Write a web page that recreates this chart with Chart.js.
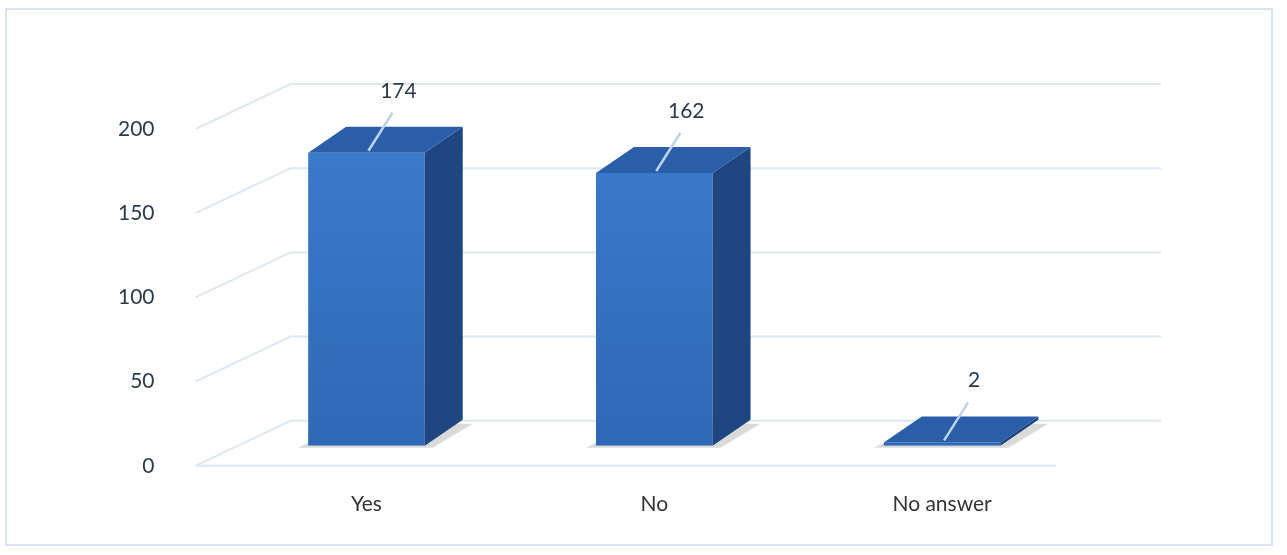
<!DOCTYPE html>
<html><head><meta charset="utf-8">
<script src="https://cdn.jsdelivr.net/npm/chart.js@4/dist/chart.umd.min.js"></script>
<style>
html,body{margin:0;padding:0;background:#fff;}
#wrap{position:absolute;left:0;top:0;width:1287px;height:555px;}
#frame{position:absolute;left:5px;top:8px;width:1268px;height:538px;border:2px solid #d7e4f1;box-sizing:border-box;}
</style></head><body>
<div id="wrap"><div id="frame"></div><canvas id="c" width="1287" height="555"></canvas></div>
<script>
const categories = ["Yes", "No", "No answer"];
const values = [174, 162, 2];
const yTicks = [0, 50, 100, 150, 200];

const DX = 38, DY = -26;
const threeD = {
  id: 'threeD',
  beforeDatasetsDraw(chart) {
    const {ctx, scales:{x, y}} = chart;
    ctx.save();
    ctx.strokeStyle = '#dce8f3'; ctx.lineWidth = 2;
    const left = x.left - 27, backL = left + 95, right = x.right + 75;
    yTicks.forEach(v => {
      const py = y.getPixelForValue(v) + 20;
      ctx.beginPath();
      ctx.moveTo(left, py); ctx.lineTo(backL, py - 45); ctx.lineTo(right, py - 45);
      ctx.stroke();
    });
    ctx.beginPath();
    const p0 = y.getPixelForValue(0) + 20;
    ctx.moveTo(left, p0); ctx.lineTo(right - 105, p0); ctx.stroke();
    const meta = chart.getDatasetMeta(0);
    meta.data.forEach(b => {
      const w = b.width, l = b.x - w/2, base = b.base;
      ctx.fillStyle = 'rgba(150,150,150,0.35)';
      ctx.beginPath();
      ctx.moveTo(l-10, base+2); ctx.lineTo(l+w+8, base+2); ctx.lineTo(l+w+DX+10, base+DY+4); ctx.lineTo(l+DX, base+DY+4); ctx.closePath(); ctx.fill();
    });
    ctx.restore();
  },
  afterDatasetsDraw(chart) {
    const {ctx} = chart;
    const meta = chart.getDatasetMeta(0);
    ctx.save();
    meta.data.forEach((b, i) => {
      const w = b.width, l = b.x - w/2, r = b.x + w/2, t = b.y, base = b.base;
      ctx.fillStyle = '#1f4680';
      ctx.beginPath(); ctx.moveTo(r, t); ctx.lineTo(r+DX, t+DY); ctx.lineTo(r+DX, base+DY); ctx.lineTo(r, base); ctx.closePath(); ctx.fill();
      ctx.fillStyle = '#2b5ea8';
      ctx.beginPath(); ctx.moveTo(l, t); ctx.lineTo(r, t); ctx.lineTo(r+DX, t+DY); ctx.lineTo(l+DX, t+DY); ctx.closePath(); ctx.fill();
      ctx.strokeStyle = '#bcd3ea'; ctx.lineWidth = 2.5;
      ctx.beginPath(); ctx.moveTo(b.x+2, t-2); ctx.lineTo(b.x+26, t-40); ctx.stroke();
      ctx.fillStyle = '#2a3a4c'; ctx.font = '21px Lato, sans-serif';
      ctx.textAlign = 'center'; ctx.textBaseline = 'alphabetic';
      ctx.fillText(String(values[i]), b.x+32, t-55);
    });
    ctx.restore();
  }
};

new Chart(document.getElementById('c'), {
  type: 'bar',
  data: { labels: categories, datasets: [{ data: values,
    backgroundColor: (c) => {
      const {ctx, chartArea} = c.chart;
      if (!chartArea) return '#3a78c8';
      const g = ctx.createLinearGradient(0, chartArea.top, 0, chartArea.bottom);
      g.addColorStop(0, '#3d7ccc'); g.addColorStop(1, '#2f68b6'); return g;
    },
    borderWidth: 0, barPercentage: 0.81, categoryPercentage: 0.5 }] },
  options: {
    responsive: false, animation: false, devicePixelRatio: 1,
    layout: { padding: { left: 58, right: 201, top: 109, bottom: 0 } },
    plugins: { legend: { display: false }, tooltip: { enabled: false } },
    scales: {
      x: { grid: { display: false }, border: { display: false },
           ticks: { color: '#333', font: { size: 21, family: 'Lato, sans-serif' }, padding: 38 } },
      y: { min: 0, max: 200, afterBuildTicks: s => { s.ticks = yTicks.map(v => ({value: v})); },
           grid: { display: false }, border: { display: false },
           ticks: { color: '#2a3a4c', font: { size: 21, family: 'Lato, sans-serif' }, padding: 60, labelOffset: 20 } }
    }
  },
  plugins: [threeD]
});
</script></body></html>
